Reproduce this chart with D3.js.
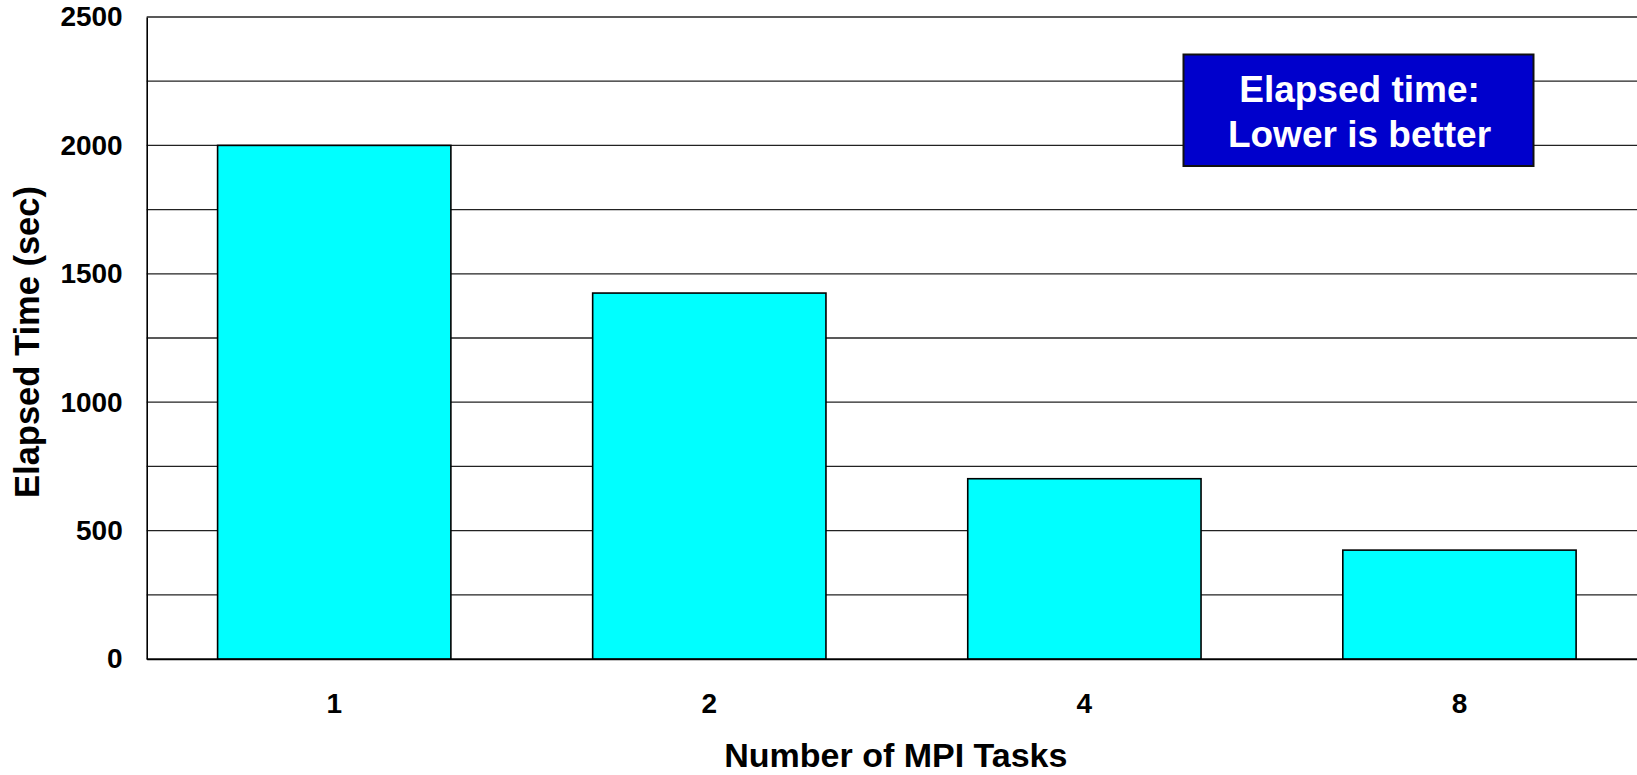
<!DOCTYPE html>
<html>
<head>
<meta charset="utf-8">
<script src="https://cdn.jsdelivr.net/npm/d3@7"></script>
<style>
  html, body { margin: 0; padding: 0; background: #fff; }
  svg { display: block; font-family: "Liberation Sans", Arial, sans-serif; font-weight: bold; }
</style>
</head>
<body>
<svg id="chart" width="1637" height="775"></svg>
<script>
const categories = ["1", "2", "4", "8"];
const elapsedValues = [2000, 1425, 702, 424];
const yTickValues = [0, 500, 1000, 1500, 2000, 2500];
const yGridValues = [0, 250, 500, 750, 1000, 1250, 1500, 1750, 2000, 2250, 2500];
const xAxisTitle = "Number of MPI Tasks";
const yAxisTitle = "Elapsed Time (sec)";
const noteLines = ["Elapsed time:", "Lower is better"];

const svg = d3.select("#chart");
const mLeft = 146.7, mTop = 17, mBottom = 659, mRight = 1647;

const x = d3.scaleBand().domain(categories).range([mLeft, mRight])
  .paddingInner(0.378).paddingOuter(0.189);
const y = d3.scaleLinear().domain([0, 2500]).range([mBottom, mTop]);

// gridlines
svg.append("g").selectAll("line").data(yGridValues).join("line")
  .attr("x1", mLeft).attr("x2", mRight)
  .attr("y1", d => y(d)).attr("y2", d => y(d))
  .attr("stroke", "#222").attr("stroke-width", 1.3);

// bars
svg.append("g").selectAll("rect").data(elapsedValues).join("rect")
  .attr("x", (d, i) => x(categories[i]))
  .attr("width", x.bandwidth())
  .attr("y", d => y(d))
  .attr("height", d => y(0) - y(d))
  .attr("fill", "#00FFFF")
  .attr("stroke", "#000").attr("stroke-width", 1.6);

// y axis
const yAxis = d3.axisLeft(y).tickValues(yTickValues).tickSize(0).tickPadding(24).tickFormat(d3.format("d"));
const gy = svg.append("g").attr("transform", `translate(${mLeft},0)`).call(yAxis);
gy.select(".domain").attr("stroke", "#000").attr("stroke-width", 1.6);
gy.selectAll("text").attr("font-size", 28).attr("font-family", "Liberation Sans, Arial, sans-serif")
  .attr("font-weight", "bold").attr("fill", "#000");

// x axis
const xAxis = d3.axisBottom(x).tickSize(0).tickPadding(34);
const gx = svg.append("g").attr("transform", `translate(0,${mBottom})`).call(xAxis);
gx.select(".domain").attr("stroke", "#000").attr("stroke-width", 1.6);
gx.selectAll("text").attr("font-size", 28).attr("font-family", "Liberation Sans, Arial, sans-serif")
  .attr("font-weight", "bold").attr("fill", "#000");

// axis titles
svg.append("text").attr("x", (mLeft + mRight) / 2 - 1).attr("y", 767)
  .attr("text-anchor", "middle").attr("font-size", 34).attr("fill", "#000")
  .text(xAxisTitle);
svg.append("text").attr("transform", `translate(39,${(mTop + mBottom) / 2 + 4}) rotate(-90)`)
  .attr("text-anchor", "middle").attr("font-size", 34.5).attr("fill", "#000")
  .text(yAxisTitle);

// annotation box
const box = { x0: 1183.5, y0: 54.5, w: 350, h: 111.5 };
svg.append("rect").attr("x", box.x0).attr("y", box.y0).attr("width", box.w).attr("height", box.h)
  .attr("fill", "#0000CC").attr("stroke", "#111").attr("stroke-width", 2);
svg.append("g").selectAll("text").data(noteLines).join("text")
  .attr("x", box.x0 + box.w / 2 + 1).attr("y", (d, i) => 102 + i * 45)
  .attr("text-anchor", "middle").attr("font-size", 37).attr("fill", "#fff")
  .text(d => d);
</script>
</body>
</html>
